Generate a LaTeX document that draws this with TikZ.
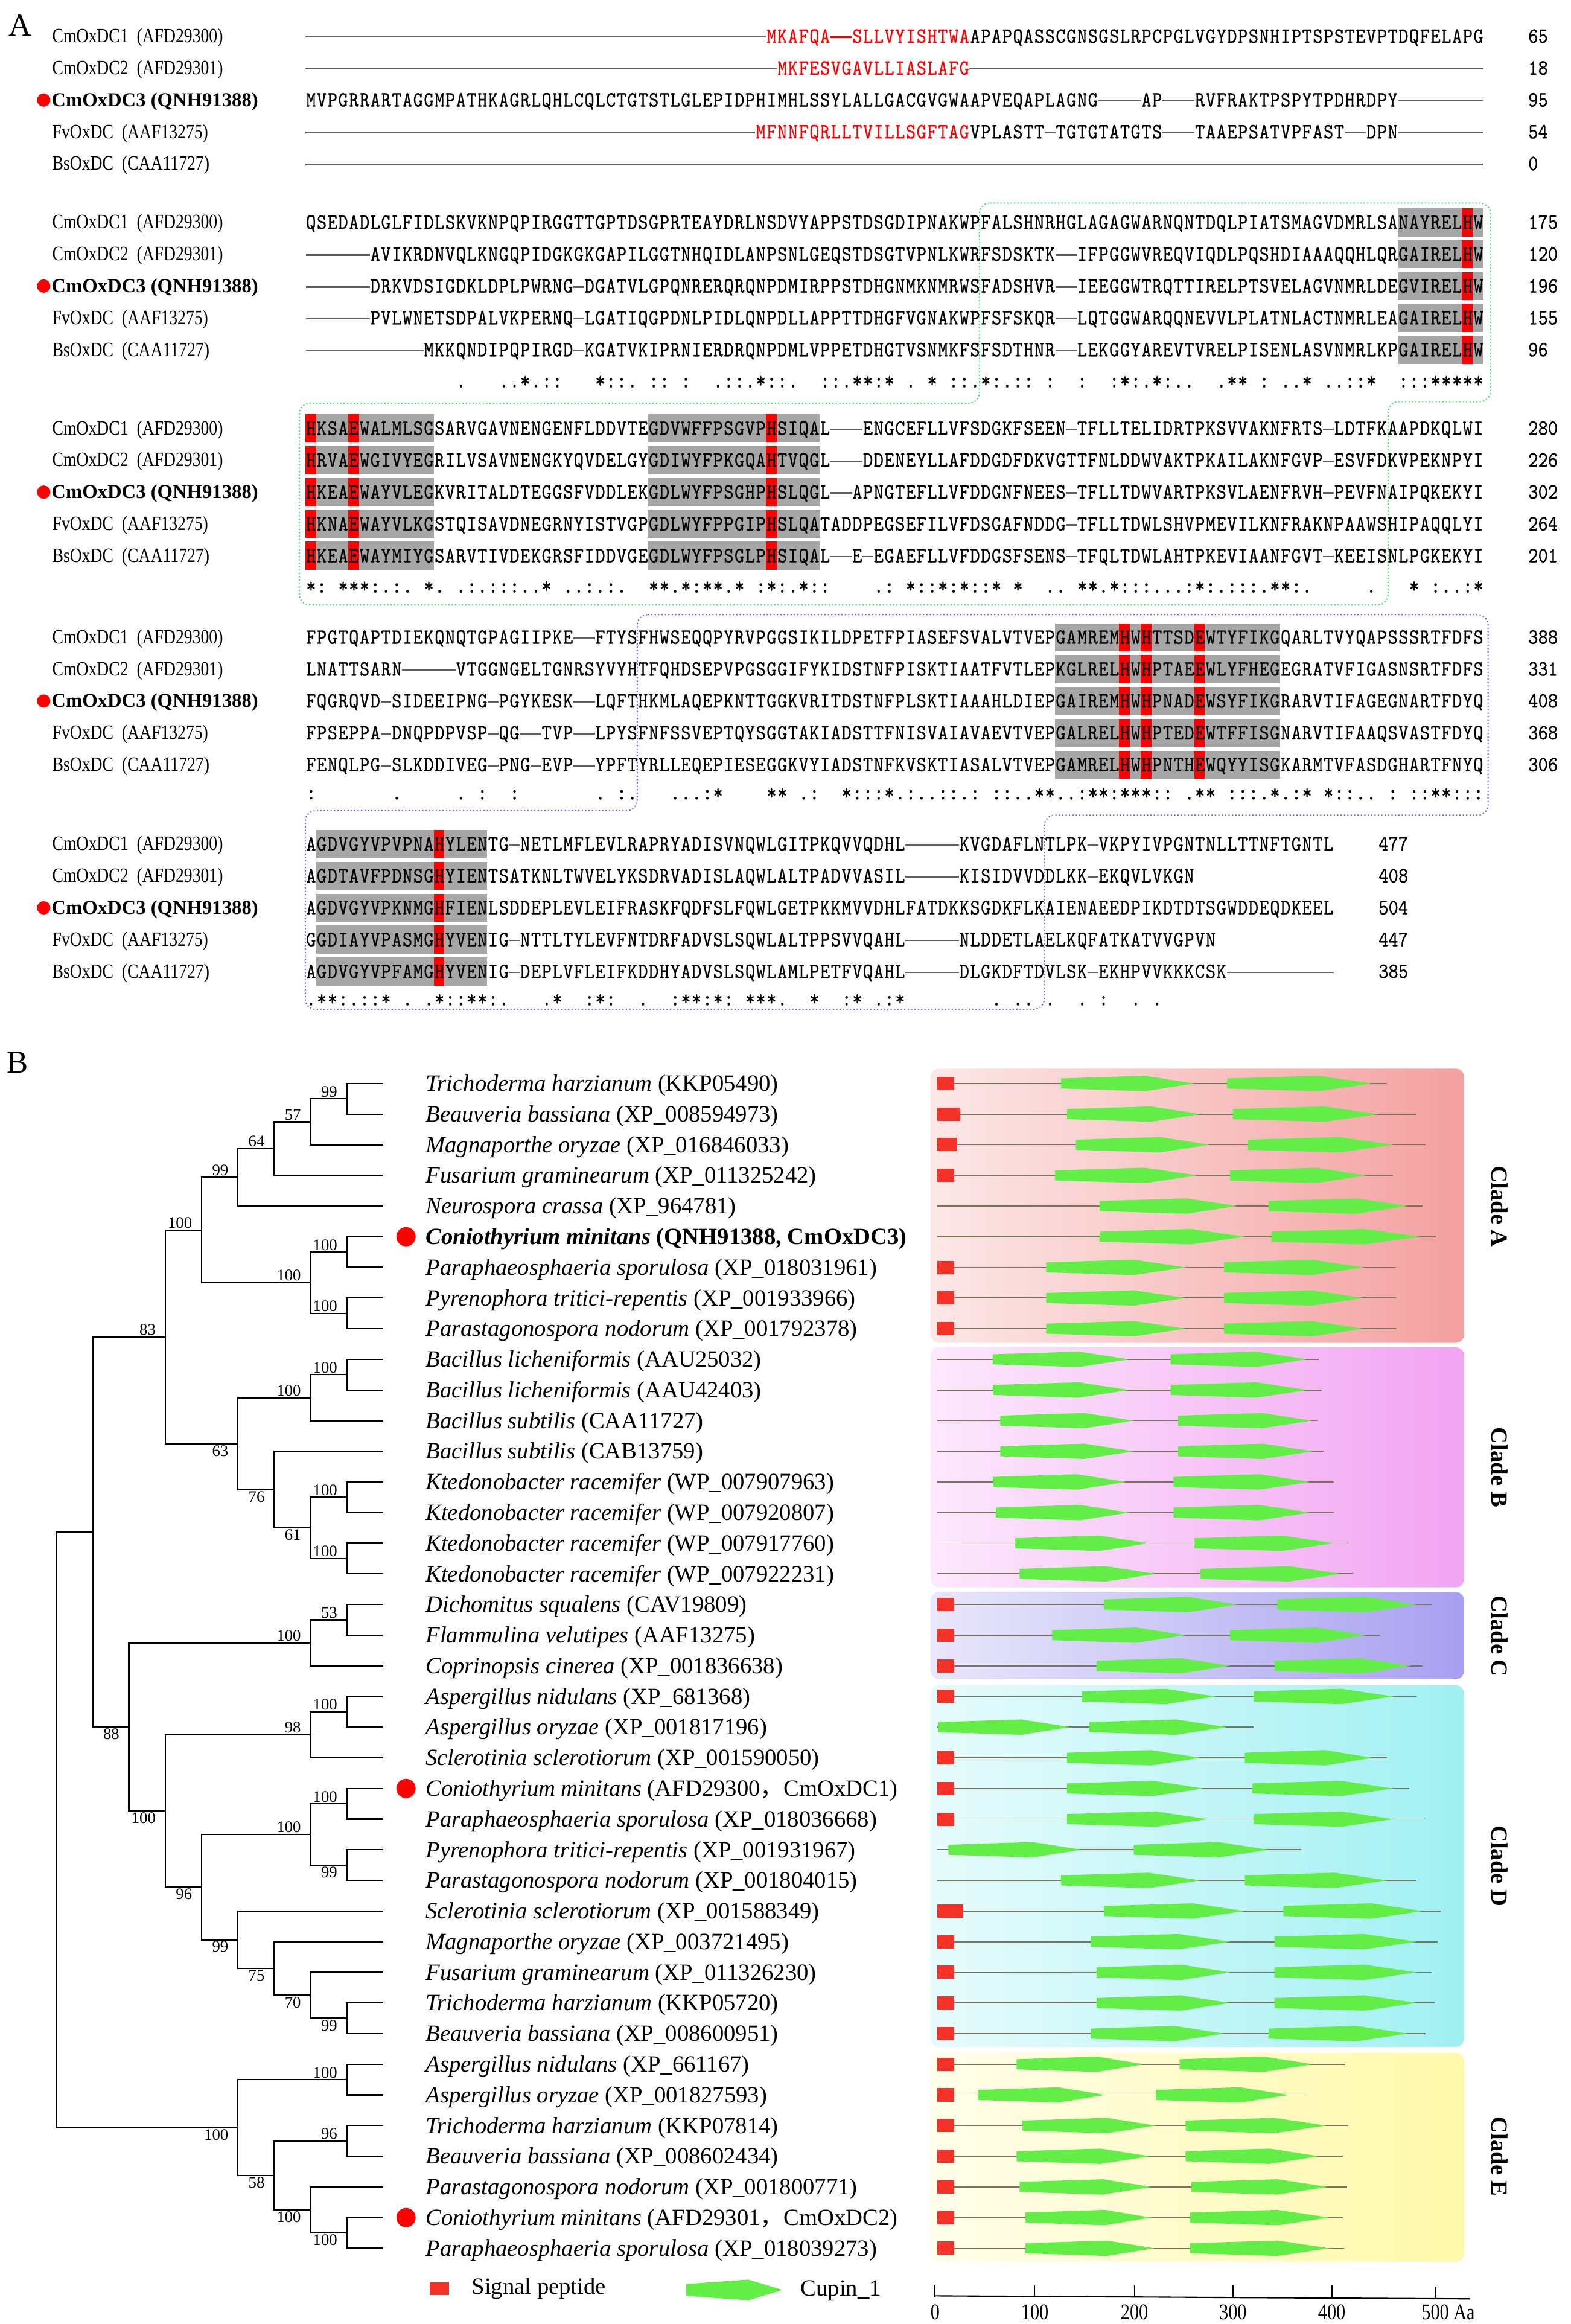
\documentclass[tikz,border=0pt]{standalone}
\usepackage{fontspec}
\setmainfont{Liberation Serif}
\newfontfamily\nameFont[FakeStretch=0.82]{Liberation Serif}
\newfontfamily\seqFont[FakeStretch=0.86, FakeBold=0.5]{Latin Modern Mono}
\newfontfamily\cjkFont{Noto Sans CJK SC}
\usetikzlibrary{positioning}
\definecolor{gapGray}{RGB}{95,95,95}
\definecolor{motifGray}{RGB}{166,166,166}
\definecolor{siteRed}{RGB}{255,0,0}
\definecolor{spRed}{RGB}{245,50,40}
\definecolor{cupinGreen}{RGB}{98,238,70}
\definecolor{backboneOlive}{RGB}{120,115,90}
\definecolor{frameGreen}{RGB}{60,225,115}
\definecolor{frameBlue}{RGB}{100,100,240}
\definecolor{cladeA}{RGB}{244,160,160}
\definecolor{cladeB}{RGB}{242,164,242}
\definecolor{cladeC}{RGB}{168,160,240}
\definecolor{cladeD}{RGB}{160,240,242}
\definecolor{cladeE}{RGB}{255,250,170}
\tikzstyle{seqText} = [anchor=base west, inner sep=0pt, font=\seqFont\fontsize{10.3}{11}\selectfont]
\tikzstyle{nameText} = [anchor=base west, inner sep=0pt, font=\nameFont\fontsize{9.6}{11}\selectfont]
\tikzstyle{boldName} = [anchor=base west, inner sep=0pt, font=\bfseries\fontsize{9.3}{11}\selectfont]
\tikzstyle{panelText} = [inner sep=0pt, font=\fontsize{15}{17}\selectfont]
\tikzstyle{gapLine} = [gapGray, line width=0.7pt]
\tikzstyle{frameLine} = [line width=0.6pt, densely dotted, rounded corners=5pt]
\tikzstyle{treeLine} = [line width=0.65pt]
\tikzstyle{taxon} = [anchor=base west, inner sep=0pt, font=\fontsize{11}{13}\selectfont]
\tikzstyle{bootUp} = [anchor=south east, inner sep=0.6pt, xshift=-1.3mm, font=\fontsize{7.6}{8}\selectfont]
\tikzstyle{bootDown} = [anchor=north east, inner sep=0.6pt, xshift=-1.3mm, font=\fontsize{7.6}{8}\selectfont]
\tikzstyle{backbone} = [backboneOlive, line width=0.5pt]
\tikzstyle{cladeText} = [rotate=-90, inner sep=0pt, font=\bfseries\fontsize{11}{12}\selectfont]
\tikzstyle{axisText} = [inner sep=0pt, font=\nameFont\fontsize{10.5}{12}\selectfont]
\tikzstyle{legendText} = [anchor=base west, inner sep=0pt, font=\fontsize{11}{13}\selectfont]
\newlength\colw
\setlength\colw{1.774mm}
\newcommand{\seqx}{206}
\newcommand{\colstep}{7.227}
\newcommand{\rowstep}{21.5}
\newcommand{\dashCol}{gapGray}
\def\sq#1{\sqloop#1\relax}
\def\sqloop#1{\ifx#1\relax\else\sqchar#1\expandafter\sqloop\fi}
\def\sqchar#1{\ifx#1-\makebox[\colw]{\color{\dashCol}\rule[2.3pt]{\colw}{0.7pt}}\else\ifx#1_\hspace*{\colw}\else\makebox[\colw]{#1}\fi\fi}
\newcommand{\seqrow}[4]{\node[seqText] (#1) at ({\seqx+(#3-1)*\colstep},{#2+4.4}) {\sq{#4}};}
\newcommand{\redrow}[4]{\node[seqText, text=siteRed] (#1) at ({\seqx+(#3-1)*\colstep},{#2+4.4}) {\def\dashCol{siteRed}\sq{#4}};}
\newcommand{\gapline}[3]{\draw[gapLine] ({\seqx+(#2-1)*\colstep},{#1+0.4}) -- ({\seqx+#3*\colstep},{#1+0.4});}
\newcommand{\motif}[4]{\foreach \rowi in {0,...,4} {\fill[#4] ({\seqx+(#2-1)*\colstep},{#1+\rowi*\rowstep-9.5}) rectangle ({\seqx+#3*\colstep},{#1+\rowi*\rowstep+9.5});}}
\newcommand{\seqBlock}[7]{
  \seqrow{#1r1}{#2}{1}{#3}
  \seqrow{#1r2}{#2+\rowstep}{1}{#4}
  \seqrow{#1r3}{#2+2*\rowstep}{1}{#5}
  \seqrow{#1r4}{#2+3*\rowstep}{1}{#6}
  \seqrow{#1r5}{#2+4*\rowstep}{1}{#7}
}
\newcommand{\nameBlock}[2]{
  \node[nameText] (#1n1) at (35,{#2+4.3}) {CmOxDC1\ \ (AFD29300)};
  \node[nameText] (#1n2) at (35,{#2+\rowstep+4.3}) {CmOxDC2\ \ (AFD29301)};
  \fill[siteRed] (29.5,{#2+2*\rowstep}) circle (4.5);
  \node[boldName] (#1n3) at (34.5,{#2+2*\rowstep+4.3}) {CmOxDC3 (QNH91388)};
  \node[nameText] (#1n4) at (35,{#2+3*\rowstep+4.3}) {FvOxDC\ \ (AAF13275)};
  \node[nameText] (#1n5) at (35,{#2+4*\rowstep+4.3}) {BsOxDC\ \ (CAA11727)};
}
\newcommand{\numBlock}[8]{
  \node[seqText] (#1c1) at (#3,{#2+4.4}) {#4};
  \node[seqText] (#1c2) at (#3,{#2+\rowstep+4.4}) {#5};
  \node[seqText] (#1c3) at (#3,{#2+2*\rowstep+4.4}) {#6};
  \node[seqText] (#1c4) at (#3,{#2+3*\rowstep+4.4}) {#7};
  \node[seqText] (#1c5) at (#3,{#2+4*\rowstep+4.4}) {#8};
}
\newcommand{\cupin}[3]{\fill[cupinGreen] (#2,{#1-3.4}) -- ({#2+0.63*(#3-#2)},{#1-5.2}) -- (#3,#1) -- ({#2+0.63*(#3-#2)},{#1+5.2}) -- (#2,{#1+3.4}) -- cycle;}
\newcommand{\domainRow}[7]{
  \pgfmathsetmacro{\rowy}{731+(#1-1)*20.68}
  \draw[backbone] (632,\rowy) -- (#3,\rowy);
  \ifnum#2>0 \fill[spRed] (632.5,{\rowy-4.5}) rectangle (#2,{\rowy+4.5});\fi
  \cupin{\rowy}{#4}{#5}\cupin{\rowy}{#6}{#7}
}
\newcommand{\clade}[3]{\draw[treeLine] (#2) -| (#1) |- (#3);}
\begin{document}
\begin{tikzpicture}[x=0.24547mm, y=-0.24547mm]
\useasboundingbox (0,0) rectangle (1060,1568);
\fill[white] (0,0) rectangle (1060,1568);
\node[panelText] (panelA) at (13.5,17) {A};
\motif{150}{103}{110}{motifGray}
\motif{150}{109}{109}{siteRed}
\motif{289}{1}{12}{motifGray}
\motif{289}{33}{48}{motifGray}
\foreach \col in {1,5,44} {\motif{289}{\col}{\col}{siteRed}}
\motif{430}{71}{91}{motifGray}
\foreach \col in {77,79,84} {\motif{430}{\col}{\col}{siteRed}}
\motif{569.5}{2}{17}{motifGray}
\motif{569.5}{13}{13}{siteRed}
\draw[frameLine, frameGreen] (661,137) -- (1005.8,137) -- (1005.8,271) -- (936.7,271) -- (936.7,408.2) -- (202,408.2) -- (202,272) -- (661,272) -- cycle;
\draw[frameLine, frameBlue] (430,414.7) -- (1004.2,414.7) -- (1004.2,550) -- (704.7,550) -- (704.7,681) -- (206,681) -- (206,547) -- (430,547) -- cycle;
\nameBlock{a}{24.5}
\nameBlock{b}{150}
\nameBlock{c}{289}
\nameBlock{d}{430}
\nameBlock{e}{569.5}
\gapline{24.5}{1}{43}
\redrow{a1r}{24.5}{44}{MKAFQA--SLLVYISHTWA}
\seqrow{a1b}{24.5}{63}{APAPQASSCGNSGSLRPCPGLVGYDPSNHIPTSPSTEVPTDQFELAPG}
\gapline{46}{1}{44}
\redrow{a2r}{46}{45}{MKFESVGAVLLIASLAFG}
\gapline{46}{63}{110}
\seqrow{a3}{67.5}{1}{MVPGRRARTAGGMPATHKAGRLQHLCQLCTGTSTLGLEPIDPHIMHLSSYLALLGACGVGWAAPVEQAPLAGNG----AP---RVFRAKTPSPYTPDHRDPY--------}
\gapline{89}{1}{42}
\redrow{a4r}{89}{43}{MFNNFQRLLTVILLSGFTAG}
\seqrow{a4b}{89}{63}{VPLASTT-TGTGTATGTS---TAAEPSATVPFAST--DPN--------}
\gapline{110.5}{1}{110}
\numBlock{a}{24.5}{1031}{65}{18}{95}{54}{0}
\seqBlock{b}{150}{QSEDADLGLFIDLSKVKNPQPIRGGTTGPTDSGPRTEAYDRLNSDVYAPPSTDSGDIPNAKWPFALSHNRHGLAGAGWARNQNTDQLPIATSMAGVDMRLSANAYRELHW}{------AVIKRDNVQLKNGQPIDGKGKGAPILGGTNHQIDLANPSNLGEQSTDSGTVPNLKWRFSDSKTK--IFPGGWVREQVIQDLPQSHDIAAAQQHLQRGAIRELHW}{------DRKVDSIGDKLDPLPWRNG-DGATVLGPQNRERQRQNPDMIRPPSTDHGNMKNMRWSFADSHVR--IEEGGWTRQTTIRELPTSVELAGVNMRLDEGVIRELHW}{------PVLWNETSDPALVKPERNQ-LGATIQGPDNLPIDLQNPDLLAPPTTDHGFVGNAKWPFSFSKQR--LQTGGWARQQNEVVLPLATNLACTNMRLEAGAIRELHW}{-----------MKKQNDIPQPIRGD-KGATVKIPRNIERDRQNPDMLVPPETDHGTVSNMKFSFSDTHNR--LEKGGYAREVTVRELPISENLASVNMRLKPGAIRELHW}
\seqrow{bc}{257}{1}{______________.___..*.::___*::._::_:__.::.*::.__::.**:*_._*_::.*:.::_:__:__:*:.*:.._%
_.**_:_..*_..::*__:::*****}
\numBlock{b}{150}{1031}{175}{120}{196}{155}{96}
\seqBlock{c}{289}{HKSAEWALMLSGSARVGAVNENGENFLDDVTEGDVWFFPSGVPHSIQAL---ENGCEFLLVFSDGKFSEEN-TFLLTELIDRTPKSVVAKNFRTS-LDTFKAAPDKQLWI}{HRVAEWGIVYEGRILVSAVNENGKYQVDELGYGDIWYFPKGQAHTVQGL---DDENEYLLAFDDGDFDKVGTTFNLDDWVAKTPKAILAKNFGVP-ESVFDKVPEKNPYI}{HKEAEWAYVLEGKVRITALDTEGGSFVDDLEKGDLWYFPSGHPHSLQGL--APNGTEFLLVFDDGNFNEES-TFLLTDWVARTPKSVLAENFRVH-PEVFNAIPQKEKYI}{HKNAEWAYVLKGSTQISAVDNEGRNYISTVGPGDLWYFPPGIPHSLQATADDPEGSEFILVFDSGAFNDDG-TFLLTDWLSHVPMEVILKNFRAKNPAAWSHIPAQQLYI}{HKEAEWAYMIYGSARVTIVDEKGRSFIDDVGEGDLWYFPSGLPHSIQAL--E-EGAEFLLVFDDGSFSENS-TFQLTDWLAHTPKEVIAANFGVT-KEEISNLPGKEKYI}
\seqrow{cc}{395.5}{1}{*:_***:.:._*._.:.:::..*_..:.:.__**.*:**.*_:*:.*::____.:_*::*:*::*_*__.%
._**.*:::...:*:.:::.**:._____.___*_:..:*}
\numBlock{c}{289}{1031}{280}{226}{302}{264}{201}
\seqBlock{d}{430}{FPGTQAPTDIEKQNQTGPAGIIPKE--FTYSFHWSEQQPYRVPGGSIKILDPETFPIASEFSVALVTVEPGAMREMHWHTTSDEWTYFIKGQARLTVYQAPSSSRTFDFS}{LNATTSARN-----VTGGNGELTGNRSYVYHTFQHDSEPVPGSGGIFYKIDSTNFPISKTIAATFVTLEPKGLRELHWHPTAEEWLYFHEGEGRATVFIGASNSRTFDFS}{FQGRQVD-SIDEEIPNG-PGYKESK--LQFTHKMLAQEPKNTTGGKVRITDSTNFPLSKTIAAAHLDIEPGAIREMHWHPNADEWSYFIKGRARVTIFAGEGNARTFDYQ}{FPSEPPA-DNQPDPVSP-QG--TVP--LPYSFNFSSVEPTQYSGGTAKIADSTTFNISVAIAVAEVTVEPGALRELHWHPTEDEWTFFISGNARVTIFAAQSVASTFDYQ}{FENQLPG-SLKDDIVEG-PNG-EVP--YPFTYRLLEQEPIESEGGKVYIADSTNFKVSKTIASALVTVEPGAMRELHWHPNTHEWQYYISGKARMTVFASDGHARTFNYQ}
\seqrow{dc}{535}{1}{:_______._____._:__:_______._:.___...:*____**_.:__*:::*.:..:%
:.:_::..**..:**:***::_.**_:::.*.:*_*::.._:_::**:::}
\numBlock{d}{430}{1031}{388}{331}{408}{368}{306}
\seqBlock{e}{569.5}{AGDVGYVPVPNAHYLENTG-NETLMFLEVLRAPRYADISVNQWLGITPKQVVQDHL-----KVGDAFLNTLPK-VKPYIVPGNTNLLTTNFTGNTL}{AGDTAVFPDNSGHYIENTSATKNLTWVELYKSDRVADISLAQWLALTPADVVASIL-----KISIDVVDDLKK-EKQVLVKGN}{AGDVGYVPKNMGHFIENLSDDEPLEVLEIFRASKFQDFSLFQWLGETPKKMVVDHLFATDKKSGDKFLKAIENAEEDPIKDTDTSGWDDEQDKEEL}{GGDIAYVPASMGHYVENIG-NTTLTYLEVFNTDRFADVSLSQWLALTPPSVVQAHL-----NLDDETLAELKQFATKATVVGPVN}{AGDVGYVPFAMGHYVENIG-DEPLVFLEIFKDDHYADVSLSQWLAMLPETFVQAHL-----DLGKDFTDVLSK-EKHPVVKKKCSK----------}
\seqrow{ec}{674}{1}{.**:.::*_._.*::**:._%
__.*__:*:__.__:**:*:_***.__*__:*_.:*________._.._.__._:__._._}
\numBlock{e}{569.5}{930}{477}{408}{504}{447}{385}
% panel B
\node[panelText] (panelB) at (12,717) {B};
\shade[left color=cladeA!25!white, right color=cladeA, rounded corners=4pt] (628,721) rectangle (988,906);
\shade[left color=cladeB!25!white, right color=cladeB, rounded corners=4pt] (628,909) rectangle (988,1071);
\shade[left color=cladeC!25!white, right color=cladeC, rounded corners=4pt] (628,1074) rectangle (988,1133);
\shade[left color=cladeD!25!white, right color=cladeD, rounded corners=4pt] (628,1137) rectangle (988,1381);
\shade[left color=cladeE!25!white, right color=cladeE, rounded corners=4pt] (628,1385) rectangle (988,1526);
\node[cladeText] (labA) at (1012,814) {Clade A};
\node[cladeText] (labB) at (1012,990) {Clade B};
\node[cladeText] (labC) at (1012,1104) {Clade C};
\node[cladeText] (labD) at (1012,1259) {Clade D};
\node[cladeText] (labE) at (1012,1455) {Clade E};
\foreach \i/\spx/\e/\ua/\ub/\va/\vb in {1/644/936/716/806/828/926, 2/648/956/720/810/832/930, 3/646/962/726/816/842/940, 4/644/940/712/808/830/922, 5/0/960/742/835/856/950, 6/0/969/742/840/858/958, 7/644/942/706/800/826/920, 8/644/942/706/800/826/920, 9/644/942/706/800/826/920, 10/0/890/670/762/790/882, 11/0/892/670/762/790/882, 12/0/889/675/765/795/885, 13/0/893/675/765/795/886, 14/0/900/670/760/792/884, 15/0/900/672/762/792/884, 16/0/910/685/775/806/900, 17/0/913/688/780/810/905, 18/644/966/745/835/862/956, 19/644/931/710/800/830/922, 20/644/960/740/830/860/952, 21/644/956/730/820/846/940, 22/0/846/633/722/735/828, 23/644/936/720/810/840/926, 24/644/951/720/812/845/940, 25/644/962/720/815/846/940, 26/0/878/640/730/765/856, 27/0/956/716/810/840/936, 28/650/972/745/840/866/960, 29/644/970/736/830/860/956, 30/644/966/740/830/860/956, 31/644/968/740/830/860/956, 32/644/962/736/826/856/950, 33/644/908/686/772/796/886, 34/644/880/660/746/780/870, 35/644/910/690/780/800/895, 36/644/906/686/776/800/890, 37/644/909/688/777/804/896, 38/644/906/692/777/803/897, 39/644/907/692/779/803/897}
  {\domainRow{\i}{\spx}{\e}{\ua}{\ub}{\va}{\vb}}
\foreach \i in {1,...,39} {\coordinate (t\i) at (258.5,{731+(\i-1)*20.68});}
\coordinate (root) at (38,1234.5);
\coordinate (nA) at (62.5,1033.55);
\coordinate (nB) at (111.5,902);
\coordinate (nC) at (136,829.9);
\coordinate (nD) at (160.5,794.3);
\coordinate (nE) at (185,774.9);
\coordinate (nF) at (209.5,756.9);
\coordinate (nG) at (234,741.35);
\coordinate (nH) at (209.5,865.4);
\coordinate (nI) at (234,844.75);
\coordinate (nJ) at (234,886.1);
\coordinate (nK) at (160.5,974);
\coordinate (nL) at (209.5,943);
\coordinate (nM) at (234,927.45);
\coordinate (nN) at (185,1005);
\coordinate (nO) at (209.5,1030.85);
\coordinate (nP) at (234,1010.15);
\coordinate (nQ) at (234,1051.55);
\coordinate (nA2) at (87,1165.1);
\coordinate (nR) at (209.5,1108.4);
\coordinate (nS) at (234,1092.9);
\coordinate (nT) at (111.5,1221.85);
\coordinate (nU) at (209.5,1170.5);
\coordinate (nV) at (234,1154.95);
\coordinate (nW) at (136,1273.2);
\coordinate (nX) at (209.5,1237.65);
\coordinate (nY) at (234,1216.95);
\coordinate (nZ) at (234,1258.35);
\coordinate (nAA) at (160.5,1308.75);
\coordinate (nAB) at (185,1328.1);
\coordinate (nAC) at (209.5,1346.2);
\coordinate (nAD) at (234,1361.75);
\coordinate (nAE) at (160.5,1435.4);
\coordinate (nAF) at (234,1403.1);
\coordinate (nAG) at (185,1467.7);
\coordinate (nAH) at (234,1444.45);
\coordinate (nAI) at (209.5,1491);
\coordinate (nAJ) at (234,1506.5);
\clade{root}{nA}{nAE}
\clade{nA}{nB}{nA2}
\clade{nB}{nC}{nK}
\clade{nC}{nD}{nH}
\clade{nD}{nE}{t5}
\clade{nE}{nF}{t4}
\clade{nF}{nG}{t3}
\clade{nG}{t1}{t2}
\clade{nH}{nI}{nJ}
\clade{nI}{t6}{t7}
\clade{nJ}{t8}{t9}
\clade{nK}{nL}{nN}
\clade{nL}{nM}{t12}
\clade{nM}{t10}{t11}
\clade{nN}{t13}{nO}
\clade{nO}{nP}{nQ}
\clade{nP}{t14}{t15}
\clade{nQ}{t16}{t17}
\clade{nA2}{nR}{nT}
\clade{nR}{nS}{t20}
\clade{nS}{t18}{t19}
\clade{nT}{nU}{nW}
\clade{nU}{nV}{t23}
\clade{nV}{t21}{t22}
\clade{nW}{nX}{nAA}
\clade{nX}{nY}{nZ}
\clade{nY}{t24}{t25}
\clade{nZ}{t26}{t27}
\clade{nAA}{t28}{nAB}
\clade{nAB}{t29}{nAC}
\clade{nAC}{t30}{nAD}
\clade{nAD}{t31}{t32}
\clade{nAE}{nAF}{nAG}
\clade{nAF}{t33}{t34}
\clade{nAG}{nAH}{nAI}
\clade{nAH}{t35}{t36}
\clade{nAI}{t37}{nAJ}
\clade{nAJ}{t38}{t39}
\foreach \n/\v in {nG/99, nF/57, nE/64, nD/99, nC/100, nI/100, nH/100, nJ/100, nB/83, nM/100, nL/100, nP/100, nQ/100, nS/53, nR/100, nV/100, nU/98, nY/100, nX/100, nAF/100, nAH/96}
  {\node[bootUp] (b\n) at (\n) {\v};}
\foreach \n/\v in {nK/63, nN/76, nO/61, nA2/88, nT/100, nZ/99, nW/96, nAA/99, nAB/75, nAC/70, nAD/99, nAE/100, nAG/58, nAI/100, nAJ/100}
  {\node[bootDown] (b\n) at (\n) {\v};}
\foreach \i/\spc/\acc in {1/Trichoderma harzianum/KKP05490, 2/Beauveria bassiana/XP\_008594973, 3/Magnaporthe oryzae/XP\_016846033, 4/Fusarium graminearum/XP\_011325242, 5/Neurospora crassa/XP\_964781, 7/Paraphaeosphaeria sporulosa/XP\_018031961, 8/Pyrenophora tritici-repentis/XP\_001933966, 9/Parastagonospora nodorum/XP\_001792378, 10/Bacillus licheniformis/AAU25032, 11/Bacillus licheniformis/AAU42403, 12/Bacillus subtilis/CAA11727, 13/Bacillus subtilis/CAB13759, 14/Ktedonobacter racemifer/WP\_007907963, 15/Ktedonobacter racemifer/WP\_007920807, 16/Ktedonobacter racemifer/WP\_007917760, 17/Ktedonobacter racemifer/WP\_007922231, 18/Dichomitus squalens/CAV19809, 19/Flammulina velutipes/AAF13275, 20/Coprinopsis cinerea/XP\_001836638, 21/Aspergillus nidulans/XP\_681368, 22/Aspergillus oryzae/XP\_001817196, 23/Sclerotinia sclerotiorum/XP\_001590050, 25/Paraphaeosphaeria sporulosa/XP\_018036668, 26/Pyrenophora tritici-repentis/XP\_001931967, 27/Parastagonospora nodorum/XP\_001804015, 28/Sclerotinia sclerotiorum/XP\_001588349, 29/Magnaporthe oryzae/XP\_003721495, 30/Fusarium graminearum/XP\_011326230, 31/Trichoderma harzianum/KKP05720, 32/Beauveria bassiana/XP\_008600951, 33/Aspergillus nidulans/XP\_661167, 34/Aspergillus oryzae/XP\_001827593, 35/Trichoderma harzianum/KKP07814, 36/Beauveria bassiana/XP\_008602434, 37/Parastagonospora nodorum/XP\_001800771, 39/Paraphaeosphaeria sporulosa/XP\_018039273}
  {\node[taxon] (tax\i) at (287,{731+(\i-1)*20.68+5.2}) {\textit{\spc} (\acc)};}
\node[taxon] (tax6) at (287,{731+5*20.68+5.2}) {\textbf{\textit{Coniothyrium minitans} (QNH91388, CmOxDC3)}};
\node[taxon] (tax24) at (287,{731+23*20.68+5.2}) {\textit{Coniothyrium minitans} (AFD29300{\cjkFont ，}CmOxDC1)};
\node[taxon] (tax38) at (287,{731+37*20.68+5.2}) {\textit{Coniothyrium minitans} (AFD29301{\cjkFont ，}CmOxDC2)};
\foreach \i in {6,24,38} {\fill[siteRed] (274,{731+(\i-1)*20.68}) circle (6.5);}
\fill[spRed] (290,1540) rectangle (303,1548.5);
\node[legendText] (legSP) at (318,1548) {Signal peptide};
\fill[cupinGreen] (463,1541) -- (505,1538) -- (528,1545) -- (505,1552) -- (463,1549) -- cycle;
\node[legendText] (legCupin) at (540,1549) {Cupin\_1};
\draw[line width=0.6pt] (631,1549) -- (992,1551);
\foreach \x/\t in {631/0, 698.3/100, 765.5/200, 832/300, 898.7/400} {\draw[line width=0.5pt] (\x,1549.5) -- (\x,1542); \node[axisText] (ax\t) at (\x,1560) {\t};}
\draw[line width=0.5pt] (968.8,1550.5) -- (968.8,1543);
\node[axisText, anchor=west] (ax500) at (959,1560) {500 Aa};
\end{tikzpicture}
\end{document}
